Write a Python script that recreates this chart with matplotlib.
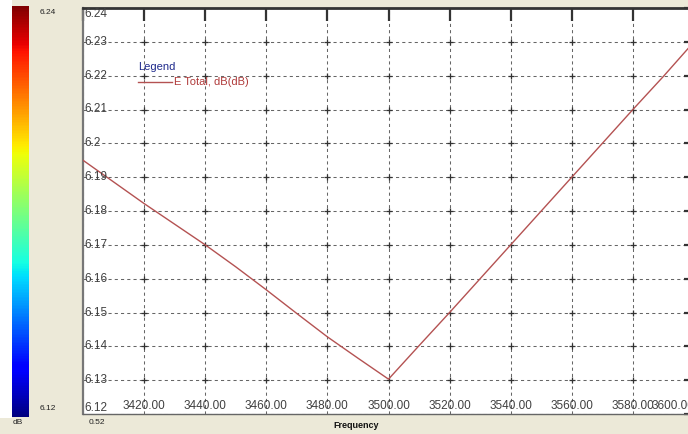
import matplotlib
matplotlib.use("Agg")
import matplotlib.pyplot as plt
import matplotlib.cm as cm
import matplotlib.colors as mcolors
import numpy as np

plt.rcParams['font.family'] = ['Liberation Sans', 'DejaVu Sans']

# values
freq = [3400, 3410, 3420, 3430, 3440, 3450, 3460, 3470, 3480, 3490, 3500,
        3510, 3520, 3530, 3540, 3550, 3560, 3570, 3580, 3590, 3600]
e_total = [6.1950, 6.1886, 6.1822, 6.1761, 6.1700, 6.1635, 6.1567, 6.1497,
           6.1428, 6.1365, 6.1303, 6.1402, 6.1500, 6.1600, 6.1700, 6.1800,
           6.1900, 6.2000, 6.2100, 6.2198, 6.2300]
x_ticks = [3400, 3420, 3440, 3460, 3480, 3500, 3520, 3540, 3560, 3580, 3600]
y_ticks = [6.12, 6.13, 6.14, 6.15, 6.16, 6.17, 6.18, 6.19, 6.20, 6.21, 6.22, 6.23, 6.24]
cbar_min, cbar_max = 6.12, 6.24
series_name = "E Total, dB(dB)"

W, H = 688, 434
bg = '#ECE9D8'
fig = plt.figure(figsize=(W / 100, H / 100), dpi=100, facecolor=bg)


def px(x0, y0, x1, y1):
    # pixel box (top-left origin) -> figure fraction rect
    return [x0 / W, 1 - y1 / H, (x1 - x0) / W, (y1 - y0) / H]


# white strip at far left
strip = fig.add_axes(px(0, 0, 12, 418))
strip.set_facecolor('white')
strip.set_xticks([])
strip.set_yticks([])
for s in strip.spines.values():
    s.set_visible(False)

# colour bar
cax = fig.add_axes(px(12, 6, 29, 417))
sm = cm.ScalarMappable(norm=mcolors.Normalize(cbar_min, cbar_max), cmap='jet')
cb = fig.colorbar(sm, cax=cax)
cb.outline.set_visible(False)
cb.set_ticks([])
fig.text(48 / W, 1 - 12 / H, f"{cbar_max:.2f}", fontsize=6, ha='center', va='center', color='#222')
fig.text(48 / W, 1 - 408 / H, f"{cbar_min:.2f}", fontsize=6, ha='center', va='center', color='#222')
fig.text(18 / W, 1 - 423 / H, "dB", fontsize=6, ha='center', va='center', color='#222')
fig.text(97 / W, 1 - 423 / H, "0.52", fontsize=6, ha='center', va='center', color='#222')
fig.text(356 / W, 1 - 426 / H, "Frequency", fontsize=6.5, ha='center', va='center',
         color='#111', fontweight='bold')

# main plot (extends a bit past the right edge, as in the reference)
ax = fig.add_axes(px(83, 8, 694, 414))
ax.set_facecolor('white')
ax.set_xlim(x_ticks[0], x_ticks[-1])
ax.set_ylim(y_ticks[0], y_ticks[-1])
ax.set_xticks(x_ticks)
ax.set_yticks(y_ticks)
ax.grid(True, color='#666666', linestyle=(0, (3, 3)), linewidth=0.75)
ax.tick_params(axis='x', which='both', top=True, bottom=False, direction='in',
               length=9, width=1.6, color='#333333', labelbottom=False)
ax.tick_params(axis='y', which='both', left=False, right=True, direction='in',
               length=7, width=1.6, color='#333333', labelleft=False)
ax.spines['left'].set_color('#777777')
ax.spines['left'].set_linewidth(1.6)
ax.spines['top'].set_color('#333333')
ax.spines['top'].set_linewidth(2.0)
ax.spines['bottom'].set_color('#666666')
ax.spines['bottom'].set_linewidth(1.0)
ax.spines['right'].set_visible(False)

gx, gy = np.meshgrid(x_ticks[1:-1], y_ticks[1:-1])
ax.plot(gx.ravel(), gy.ravel(), linestyle='none', marker='+', ms=4, mew=0.9,
        color='#333333', zorder=2)

ax.plot(freq, e_total, color='#B45252', linewidth=1.0, zorder=3)

# tick labels drawn inside the plot area
ytr = ax.get_yaxis_transform()
for i, v in enumerate(y_ticks):
    va = 'bottom' if i == 0 else ('top' if i == len(y_ticks) - 1 else 'center')
    ax.text(0.002, v, f"{v:g}", transform=ytr, fontsize=8.5, ha='left', va=va,
            color='#404040')
xtr = ax.get_xaxis_transform()
for i, v in enumerate(x_ticks[1:]):
    ha = 'right' if v == x_ticks[-1] else 'center'
    ax.text(v, 0.004, f"{v:.2f}", transform=xtr, fontsize=8.5, ha=ha, va='bottom',
            color='#404040')

# legend
fig.text(138 / W, 1 - 67 / H, "Legend", fontsize=8, ha='left', va='center', color='#1F2A8C')
fig.add_artist(plt.Line2D([138 / W, 172 / W], [1 - 82 / H, 1 - 82 / H], color='#B45252', lw=1.0))
fig.text(174 / W, 1 - 82 / H, series_name, fontsize=8, ha='left', va='center', color='#B03A3A')

fig.savefig('out.png', dpi=100, facecolor=bg)
